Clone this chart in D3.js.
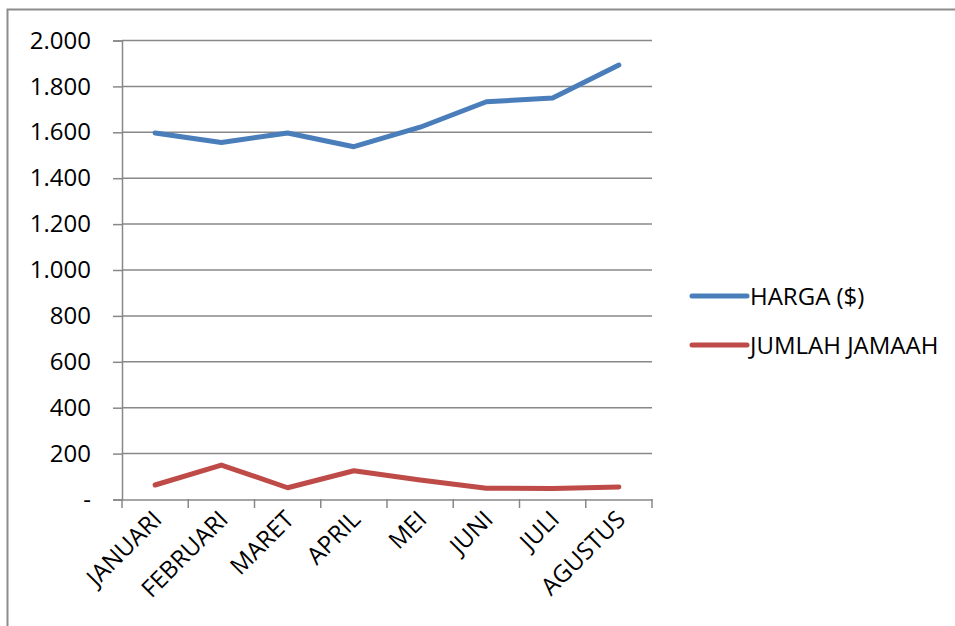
<!DOCTYPE html>
<html>
<head>
<meta charset="utf-8">
<script src="https://cdn.jsdelivr.net/npm/d3@7"></script>
<style>
    body { margin: 0; background: #fff; }
    svg text { font-family: "Open Sans", sans-serif; fill: #000; }
</style>
</head>
<body>
<div id="chart"></div>
<script>
// Chart data
const months = ["JANUARI", "FEBRUARI", "MARET", "APRIL", "MEI", "JUNI", "JULI", "AGUSTUS"]
const harga = [1595, 1553, 1595, 1535, 1620, 1731, 1747, 1891]
const jumlahJamaah = [61, 148, 49, 123, 83, 47, 46, 52]
const seriesNames = ["HARGA ($)", "JUMLAH JAMAAH"]
const yTicks = [0, 200, 400, 600, 800, 1000, 1200, 1400, 1600, 1800, 2000]

const width = 955
const height = 626
const plot = { left: 122, right: 652, top: 40, bottom: 499 }
const colors = ["#4A7EBB", "#BE4B48"]
const fontSize = 24

const svg = d3.select("#chart").append("svg")
    .attr("width", width)
    .attr("height", height)

// Outer chart frame
svg.append("rect")
    .attr("x", 7.5).attr("y", 9.5)
    .attr("width", 970).attr("height", 640)
    .attr("fill", "none")
    .attr("stroke", "#8c8c8c")
    .attr("stroke-width", 2)

const x = d3.scaleBand().domain(months).range([plot.left, plot.right])
const y = d3.scaleLinear().domain([0, 2000]).range([plot.bottom, plot.top])

// number format with period separator, "-" for zero
const fmt = (v) => v === 0 ? "-" : d3.format(",")(v).replace(/,/g, ".")

// Gridlines
svg.append("g").selectAll("line")
    .data(yTicks.filter(d => d > 0))
    .join("line")
    .attr("x1", plot.left).attr("x2", plot.right)
    .attr("y1", d => y(d) + 0.5).attr("y2", d => y(d) + 0.5)
    .attr("stroke", "#888").attr("stroke-width", 1.5)

// Y axis
const yAxis = svg.append("g")
    .attr("transform", translate(plot.left, 0.5))
    .call(d3.axisLeft(y).tickValues(yTicks).tickFormat(fmt).tickSize(9).tickPadding(22))
yAxis.select(".domain").attr("stroke", "#888").attr("stroke-width", 1.5)
yAxis.selectAll(".tick line").attr("stroke", "#888").attr("stroke-width", 1.5)
yAxis.selectAll("text").attr("font-size", fontSize).attr("font-family", "Open Sans")

// X axis
const xAxis = svg.append("g")
    .attr("transform", translate(0, plot.bottom + 0.5))
    .call(d3.axisBottom(x).tickSize(0).tickFormat(""))
xAxis.select(".domain").attr("stroke", "#888").attr("stroke-width", 1.5)
svg.append("g").selectAll("line")
    .data(months.concat(["_end"]))
    .join("line")
    .attr("x1", (d, i) => plot.left + i * x.step()).attr("x2", (d, i) => plot.left + i * x.step())
    .attr("y1", plot.bottom).attr("y2", plot.bottom + 9)
    .attr("stroke", "#888").attr("stroke-width", 1.5)

svg.append("g").selectAll("text")
    .data(months)
    .join("text")
    .attr("transform", d => translate(x(d) + x.bandwidth() / 2 + 8, plot.bottom + 22) + " rotate(-45)")
    .attr("text-anchor", "end")
    .attr("font-size", fontSize)
    .text(d => d)

// Lines
const line = d3.line()
    .x((d, i) => x(months[i]) + x.bandwidth() / 2)
    .y(d => y(d))

;[harga, jumlahJamaah].forEach((s, i) => {
    svg.append("path")
        .datum(s)
        .attr("d", line)
        .attr("fill", "none")
        .attr("stroke", colors[i])
        .attr("stroke-width", 5)
        .attr("stroke-linecap", "round")
        .attr("stroke-linejoin", "round")
})

// Legend
const legend = svg.append("g")
seriesNames.forEach((name, i) => {
    const ly = 296 + i * 49
    legend.append("line")
        .attr("x1", 692).attr("x2", 747)
        .attr("y1", ly).attr("y2", ly)
        .attr("stroke", colors[i]).attr("stroke-width", 5)
        .attr("stroke-linecap", "round")
    legend.append("text")
        .attr("x", 750).attr("y", ly + 9)
        .attr("font-size", fontSize)
        .text(name)
})

function translate(x, y) {
    return `translate(${x},${y})`
}
</script>
</body>
</html>
